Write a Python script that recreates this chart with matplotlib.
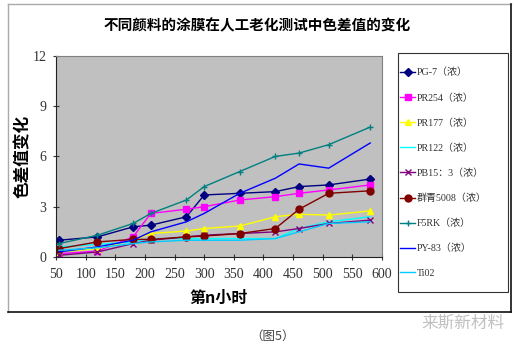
import matplotlib
matplotlib.use("Agg")
import matplotlib.pyplot as plt
from matplotlib.lines import Line2D
from matplotlib.patches import Rectangle

plt.rcParams['font.family'] = ['Noto Sans CJK SC', 'DejaVu Sans']

hours = [55, 120, 180, 210, 270, 300, 360, 420, 460, 510, 580]

series_names = ["PG-7（浓）", "PR254（浓）", "PR177（浓）", "PR122（浓）", "PB15：3（浓）",
                "群青5008（浓）", "F5RK（浓）", "PY-83（浓）", "Ti02"]
pg7 = [1.0, 1.2, 1.8, 1.9, 2.4, 3.7, 3.8, 3.9, 4.2, 4.3, 4.65]
pr254 = [0.2, 0.35, 1.2, 2.6, 2.85, 3.0, 3.4, 3.6, 3.8, 4.0, 4.3]
pr177 = [0.3, 0.5, 1.0, 1.4, 1.55, 1.7, 1.85, 2.4, 2.55, 2.5, 2.75]
pr122 = [0.6, 0.75, 0.9, 1.1, 1.1, 1.1, 1.1, 1.1, 1.7, 2.1, 2.4]
pb153 = [0.1, 0.3, 0.8, 1.0, 1.2, 1.3, 1.4, 1.5, 1.7, 2.0, 2.2]
qunqing = [0.5, 0.9, 1.05, 1.05, 1.2, 1.25, 1.4, 1.7, 2.85, 3.8, 3.95]
f5rk = [0.8, 1.3, 2.0, 2.6, 3.4, 4.2, 5.1, 6.0, 6.2, 6.7, 7.75]
py83 = [0.3, 0.6, 1.0, 1.5, 2.1, 2.6, 3.8, 4.7, 5.55, 5.3, 6.8]
tio2 = [0.4, 0.55, 0.8, 0.9, 1.0, 1.0, 1.0, 1.1, 1.5, 2.0, 2.1]

values = [pg7, pr254, pr177, pr122, pb153, qunqing, f5rk, py83, tio2]
colors = ["#000080", "#FF00FF", "#FFFF00", "#00FFFF", "#800080",
          "#800000", "#008080", "#0000FF", "#00CCFF"]
markers = ["D", "s", "^", None, "x", "o", "+", None, None]
msizes = [4, 5, 4, 0, 4, 5, 5, 0, 0]

xticks = [50, 100, 150, 200, 250, 300, 350, 400, 450, 500, 550, 600]
yticks = [0, 3, 6, 9, 12]

fig = plt.figure(figsize=(5.2, 3.48), dpi=100)
ax = fig.add_axes([0.1077, 0.2615, 0.627, 0.578])
ax.set_facecolor("#C0C0C0")

for name, vals, c, m, ms in zip(series_names, values, colors, markers, msizes):
    ax.plot(hours, vals, color=c, lw=1.0, marker=m, markersize=ms,
            markeredgewidth=1.0, label=name)

ax.set_xlim(50, 600)
ax.set_ylim(0, 12)
ax.set_xticks(xticks)
ax.set_yticks(yticks)
serif = ['Liberation Serif', 'DejaVu Serif']
for lab in ax.get_xticklabels() + ax.get_yticklabels():
    lab.set_family(serif)
    lab.set_fontsize(10)
    lab.set_color("#333333")
ax.tick_params(axis='both', direction='inout', length=4, width=0.8, color="#333333")
ax.tick_params(axis='x', pad=6)
ax.tick_params(axis='y', pad=5)
for s in ['top', 'right']:
    ax.spines[s].set_color("#808080")
for s in ['left', 'bottom']:
    ax.spines[s].set_color("#222222")

ax.set_ylabel("色差值变化", fontsize=12, fontweight='bold', va='center')
ax.yaxis.set_label_coords(-0.101, 0.5)
ax.set_xlabel("第n小时", fontsize=11.5, fontweight='bold', va='center')
ax.xaxis.set_label_coords(0.5, -0.204)

fig.text(0.494, 0.928, "不同颜料的涂膜在人工老化测试中色差值的变化", ha='center', va='center',
         fontsize=10.5, fontweight='bold')

# legend frame
fig.add_artist(Rectangle((398/520, 1-292/348), 110/520, 239/348, transform=fig.transFigure,
                         facecolor='white', edgecolor='#333333', lw=0.8))
leg = fig.legend(loc='upper left', bbox_to_anchor=(400/520, 1-68/348),
                 frameon=False, numpoints=1,
                 prop={'family': ['Liberation Serif', 'Noto Sans CJK SC'], 'size': 7.2},
                 labelspacing=1.56, handlelength=1.5, handletextpad=0.15,
                 borderaxespad=0, borderpad=0)
for t in leg.get_texts():
    t.set_color("#333333")

# outer chart border
fig.add_artist(Line2D([8/520, 8/520], [1-312/348, 1-4/348], transform=fig.transFigure, color="#aaaaaa", lw=1))
fig.add_artist(Line2D([8/520, 511/520], [1-4/348, 1-4/348], transform=fig.transFigure, color="#aaaaaa", lw=1))
fig.add_artist(Line2D([511/520, 511/520], [1-312/348, 1-4/348], transform=fig.transFigure, color="#111111", lw=1.2))
fig.add_artist(Line2D([8/520, 511/520], [1-312/348, 1-312/348], transform=fig.transFigure, color="#111111", lw=1.2))

fig.text(273/520, 1-336/348, "（图5）", ha='center', va='center', fontsize=9, color="#444444")
fig.text(463/520, 1-323/348, "来斯新材料", ha='center', va='center', fontsize=12, color="#c0c0c0")

fig.savefig("out.png", dpi=100)
